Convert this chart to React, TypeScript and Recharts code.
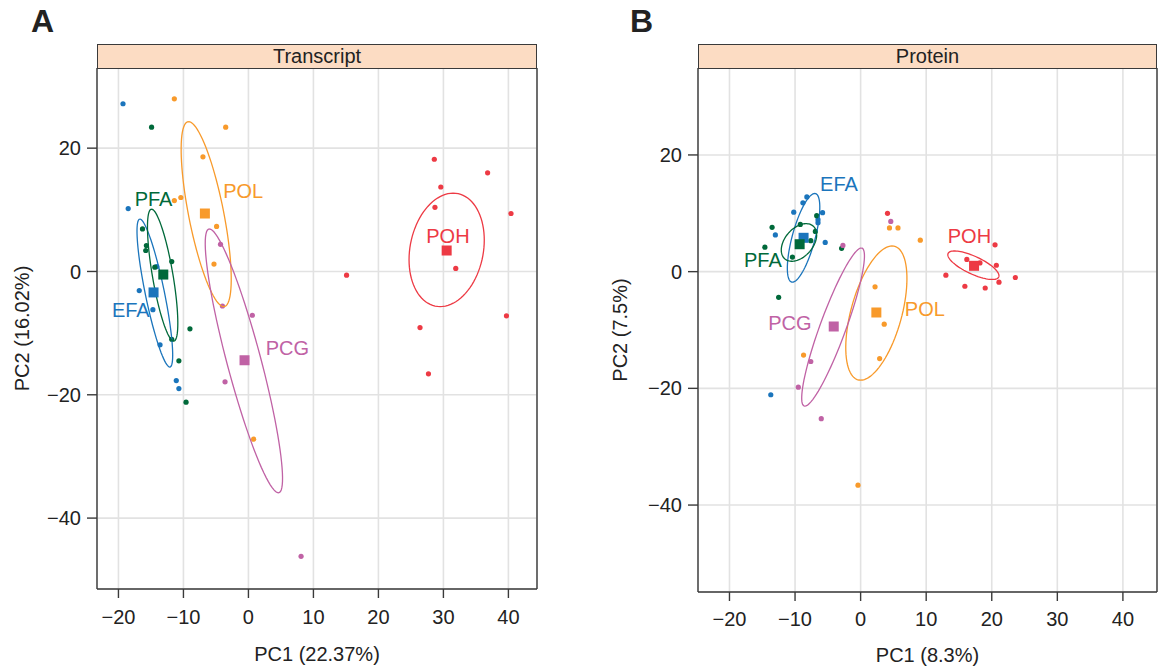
import { CartesianGrid, Scatter, ScatterChart, XAxis, YAxis } from "recharts";

type Pt = [number, number];

const groupNames = ["EFA", "PFA", "POL", "PCG", "POH"];
const groupColors = ["#1b75bc", "#00693a", "#f89a2b", "#c062a5", "#ed3a44"];

const xTicks = [-20, -10, 0, 10, 20, 30, 40];
const yTicks = [-40, -20, 0, 20];

// Transcript panel: samples per group
const transcriptEFA: Pt[] = [[-19.3, 27.2], [-18.5, 10.2], [-16.8, -3.1], [-14.7, -6.2], [-14.1, 0.8], [-13.6, -11.9], [-11.1, -17.7], [-10.7, -19.0]];
const transcriptPFA: Pt[] = [[-14.9, 23.4], [-16.3, 6.9], [-15.7, 4.2], [-15.8, 3.4], [-14.4, 0.7], [-11.8, 1.6], [-11.8, -11.0], [-9.0, -9.3], [-10.7, -14.5], [-9.6, -21.2]];
const transcriptPOL: Pt[] = [[-11.4, 28.0], [-3.5, 23.4], [-7.0, 18.6], [-11.4, 11.5], [-10.4, 12.0], [-4.9, 7.3], [-5.3, 1.2], [0.8, -27.2]];
const transcriptPCG: Pt[] = [[-4.3, 4.4], [-4.0, -5.6], [0.6, -7.1], [-3.6, -17.9], [8.1, -46.2]];
const transcriptPOH: Pt[] = [[28.6, 18.2], [36.8, 16.0], [29.6, 13.7], [28.7, 10.4], [40.4, 9.4], [31.9, 0.5], [39.7, -7.2], [26.4, -9.1], [15.1, -0.6], [27.7, -16.6]];
const transcriptCentroids: Pt[] = [[-14.6, -3.4], [-13.1, -0.5], [-6.7, 9.4], [-0.6, -14.4], [30.5, 3.4]];
// ellipse: centre, conjugate half-axis u, conjugate half-axis v
const transcriptEllipses: [Pt, Pt, Pt][] = [
  [[-14.4, -3.5], [-2.3, 12.0], [1.5, 0]],
  [[-13.2, -0.6], [-1.7, 10.7], [1.6, 0]],
  [[-6.5, 9.3], [-2.7, 15.0], [2.75, 0]],
  [[-0.7, -14.5], [-5.3, 21.4], [2.7, 0]],
  [[30.5, 3.5], [1.0, 9.2], [5.7, 0]],
];
const transcriptLabels: Pt[] = [[-18.1, -6.2], [-14.6, 11.7], [-0.8, 13.1], [6.0, -12.4], [30.7, 5.8]];

// Protein panel
const proteinEFA: Pt[] = [[-8.2, 12.8], [-8.8, 11.8], [-10.2, 10.2], [-5.8, 10.1], [-6.5, 8.9], [-6.5, 8.4], [-13.0, 6.3], [-5.4, 5.0], [-13.7, -21.1]];
const proteinPFA: Pt[] = [[-13.5, 7.6], [-9.2, 8.1], [-6.7, 9.6], [-6.9, 6.9], [-7.6, 5.3], [-14.6, 4.2], [-10.4, 2.5], [-2.9, 4.0], [-12.5, -4.4]];
const proteinPOL: Pt[] = [[-8.7, -14.3], [2.2, -2.6], [3.6, -9.0], [2.9, -14.9], [4.4, 7.5], [5.7, 7.5], [9.1, 5.4], [-0.4, -36.6]];
const proteinPCG: Pt[] = [[-2.7, 4.5], [-7.6, -15.4], [-9.5, -19.8], [-6.0, -25.2], [4.6, 8.6]];
const proteinPOH: Pt[] = [[4.1, 10.0], [20.5, 4.6], [16.2, 2.1], [18.2, 1.5], [20.7, 1.1], [13.0, -0.6], [23.6, -1.0], [21.1, -1.8], [15.9, -2.5], [19.0, -2.8]];
const proteinCentroids: Pt[] = [[-8.7, 5.8], [-9.3, 4.7], [2.4, -7.0], [-4.1, -9.4], [17.3, 1.0]];
const proteinEllipses: [Pt, Pt, Pt][] = [
  [[-8.7, 5.8], [1.7, 7.6], [1.8, 0]],
  [[-9.4, 5.0], [2.7, 1.3], [0, 2.95]],
  [[2.4, -7.1], [2.4, 11.5], [4.0, 0]],
  [[-4.2, -9.5], [4.3, 13.55], [2.1, 0]],
  [[17.2, 1.1], [3.9, -1.8], [0, 1.65]],
];
const proteinLabels: Pt[] = [[-3.3, 15.0], [-14.9, 2.0], [9.8, -6.4], [-10.8, -8.8], [16.6, 6.2]];

const FONT = "'Liberation Sans', Arial, Helvetica, sans-serif";
const INK = "#222";
const FRAME = "#3a3a3a";

const toXY = (pts: Pt[]) => pts.map(([x, y]) => ({ x, y }));

function ellipseOutline([c, u, v]: [Pt, Pt, Pt]) {
  const out = [];
  for (let i = 0; i <= 90; i++) {
    const t = (i / 90) * Math.PI * 2;
    out.push({ x: c[0] + u[0] * Math.cos(t) + v[0] * Math.sin(t), y: c[1] + u[1] * Math.cos(t) + v[1] * Math.sin(t) });
  }
  return out;
}

const fmt = (v: number) => (v < 0 ? `\u2212${-v}` : `${v}`);

type PanelProps = {
  left: number;
  width: number;
  plotLeft: number;
  plotRight: number;
  plotBottom: number;
  xDomain: [number, number];
  yDomain: [number, number];
  samples: Pt[][];
  centroids: Pt[];
  ellipses: [Pt, Pt, Pt][];
  labels: Pt[];
  xTitle: string;
  yTitle: string;
  yTitleOffset: number;
  xTitleOffset: number;
  xTickMargin: number;
};

function PcaPanel(p: PanelProps) {
  const height = 668;
  const top = 68;
  return (
    <div style={{ position: "absolute", left: p.left, top: 0 }}>
      <ScatterChart width={p.width} height={height} margin={{ top, right: 0, bottom: 0, left: 0 }}>
        <CartesianGrid stroke="#e2e2e2" strokeWidth={1.6} />
        <XAxis
          type="number"
          dataKey="x"
          domain={p.xDomain}
          ticks={xTicks}
          allowDataOverflow
          height={height - p.plotBottom}
          tickSize={9}
          tickMargin={p.xTickMargin}
          tickFormatter={fmt}
          tick={{ fill: INK, fontSize: 20 }}
          axisLine={{ stroke: FRAME, strokeWidth: 1.4 }}
          tickLine={{ stroke: FRAME, strokeWidth: 1.4 }}
          label={{ value: p.xTitle, position: "insideBottom", offset: p.xTitleOffset, fill: INK, fontSize: 20 }}
        />
        <YAxis
          type="number"
          dataKey="y"
          domain={p.yDomain}
          ticks={yTicks}
          allowDataOverflow
          width={p.plotLeft}
          tickSize={10}
          tickMargin={6}
          tickFormatter={fmt}
          tick={{ fill: INK, fontSize: 20 }}
          axisLine={{ stroke: FRAME, strokeWidth: 1.4 }}
          tickLine={{ stroke: FRAME, strokeWidth: 1.4 }}
          label={{ value: p.yTitle, angle: -90, position: "insideLeft", offset: p.yTitleOffset, fill: INK, fontSize: 20, style: { textAnchor: "middle" } }}
        />
        <YAxis
          yAxisId="r"
          orientation="right"
          type="number"
          domain={p.yDomain}
          ticks={yTicks}
          allowDataOverflow
          width={p.width - p.plotRight}
          tickSize={10}
          tick={false}
          axisLine={{ stroke: FRAME, strokeWidth: 1.4 }}
          tickLine={{ stroke: FRAME, strokeWidth: 1.4 }}
        />
        {p.samples.map((pts, i) => (
          <Scatter
            key={`s-${groupNames[i]}`}
            data={toXY(pts)}
            isAnimationActive={false}
            shape={(s: any) => <circle cx={s.cx} cy={s.cy} r={2.6} fill={groupColors[i]} />}
          />
        ))}
        {p.ellipses.map((e, i) => (
          <Scatter
            key={`e-${groupNames[i]}`}
            data={ellipseOutline(e)}
            isAnimationActive={false}
            line={{ stroke: groupColors[i], strokeWidth: 1.3, fill: "none" }}
            shape={() => <g />}
          />
        ))}
        {p.centroids.map((c, i) => (
          <Scatter
            key={`c-${groupNames[i]}`}
            data={toXY([c])}
            isAnimationActive={false}
            shape={(s: any) => <rect x={s.cx - 5} y={s.cy - 5} width={10} height={10} fill={groupColors[i]} />}
          />
        ))}
        {p.labels.map((l, i) => (
          <Scatter
            key={`l-${groupNames[i]}`}
            data={toXY([l])}
            isAnimationActive={false}
            shape={(s: any) => (
              <text x={s.cx} y={s.cy} dy="0.355em" textAnchor="middle" fontSize={20} fill={groupColors[i]}>
                {groupNames[i]}
              </text>
            )}
          />
        ))}
      </ScatterChart>
    </div>
  );
}

function Strip({ left, width, title }: { left: number; width: number; title: string }) {
  return (
    <div
      style={{
        position: "absolute",
        left,
        top: 43.5,
        width,
        height: 25,
        boxSizing: "border-box",
        border: `1.5px solid ${FRAME}`,
        background: "#fcdcc3",
        color: INK,
        fontSize: 20,
        lineHeight: "22px",
        textAlign: "center",
      }}
    >
      {title}
    </div>
  );
}

export default function App() {
  return (
    <div style={{ position: "absolute", left: 0, top: 0, width: 1162, height: 668, background: "#fff", fontFamily: FONT, overflow: "hidden" }}>
      <PcaPanel
        left={0}
        width={560}
        plotLeft={97}
        plotRight={537}
        plotBottom={589}
        xDomain={[-23.3, 44.4]}
        yDomain={[-51.5, 33.0]}
        samples={[transcriptEFA, transcriptPFA, transcriptPOL, transcriptPCG, transcriptPOH]}
        centroids={transcriptCentroids}
        ellipses={transcriptEllipses}
        labels={transcriptLabels}
        xTitle="PC1 (22.37%)"
        yTitle="PC2 (16.02%)"
        yTitleOffset={22}
        xTitleOffset={7}
        xTickMargin={12}
      />
      <PcaPanel
        left={600}
        width={562}
        plotLeft={98}
        plotRight={557}
        plotBottom={592}
        xDomain={[-24.8, 45.2]}
        yDomain={[-54.9, 34.9]}
        samples={[proteinEFA, proteinPFA, proteinPOL, proteinPCG, proteinPOH]}
        centroids={proteinCentroids}
        ellipses={proteinEllipses}
        labels={proteinLabels}
        xTitle="PC1 (8.3%)"
        yTitle="PC2 (7.5%)"
        yTitleOffset={20}
        xTitleOffset={6}
        xTickMargin={11}
      />
      <Strip left={97} width={440} title="Transcript" />
      <Strip left={698} width={459} title="Protein" />
      <div style={{ position: "absolute", left: 31, top: 1, fontSize: 32, fontWeight: "bold", color: INK, lineHeight: "40px" }}>A</div>
      <div style={{ position: "absolute", left: 630, top: 1, fontSize: 32, fontWeight: "bold", color: INK, lineHeight: "40px" }}>B</div>
    </div>
  );
}
